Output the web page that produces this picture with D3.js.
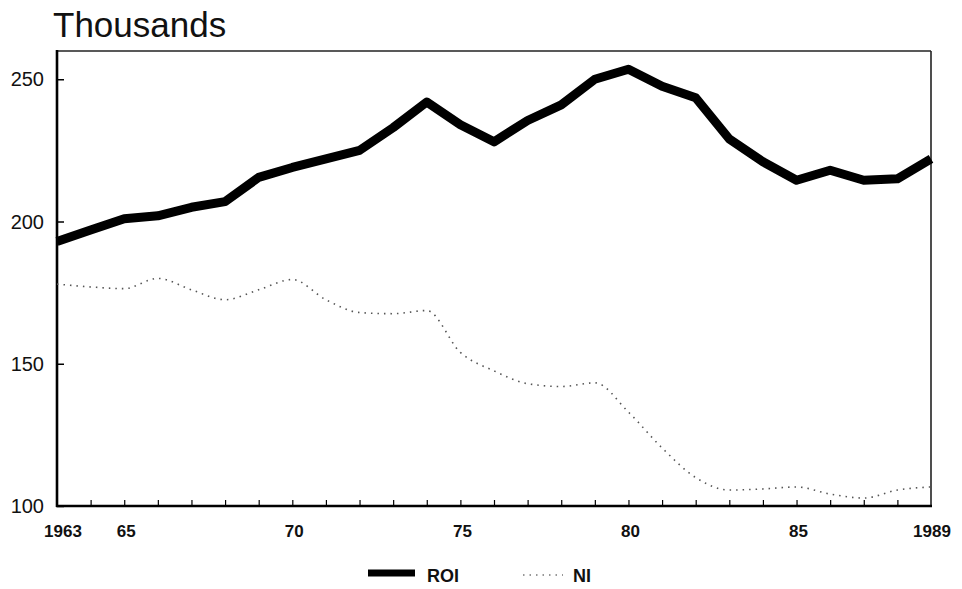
<!DOCTYPE html>
<html><head><meta charset="utf-8">
<script src="https://cdn.jsdelivr.net/npm/d3@7"></script>
<style>body{margin:0;background:#fff}svg{display:block}</style>
</head><body>
<svg id="c" width="962" height="589"></svg>
<script>
const years = d3.range(1963, 1990);
const roi = [193,197,201,202,205,207,215.5,219,222,225,233,242,234,228,235.5,241,250,253.5,247.5,243.5,229,221,214.5,218,214.5,215,222];
const ni  = [178,177,176.4,180,176,172.5,176,179.6,172.5,168,167.6,168.7,154,147.5,143,142,143.3,133,120.4,110,105.6,106,106.7,104.2,102.8,105.6,106.7];
const yTicks = [100,150,200,250];
const xTickLabels = [[1963,"1963"],[1965,"65"],[1970,"70"],[1975,"75"],[1980,"80"],[1985,"85"],[1989,"1989"]];
const seriesNames = ["ROI","NI"];

const svg = d3.select("#c");
const L=57,R=931,T=51,B=506;
const x = d3.scaleLinear().domain([1963,1989]).range([L,R]);
const y = d3.scaleLinear().domain([100,260]).range([B,B-(160)*2.845]);
const sans = "Liberation Sans, Arial, Helvetica, sans-serif";

svg.append("text").attr("x",53).attr("y",37).attr("font-family",sans)
  .attr("font-size",35).attr("fill","#111").text("Thousands");

// box
svg.append("line").attr("x1",L).attr("x2",R).attr("y1",T).attr("y2",T).attr("stroke","#222").attr("stroke-width",1.3);
svg.append("line").attr("x1",R).attr("x2",R).attr("y1",T).attr("y2",B).attr("stroke","#222").attr("stroke-width",1.6);
svg.append("line").attr("x1",L).attr("x2",L).attr("y1",T-1).attr("y2",B+1).attr("stroke","#000").attr("stroke-width",2.6);
svg.append("line").attr("x1",L-1).attr("x2",R+1).attr("y1",B).attr("y2",B).attr("stroke","#000").attr("stroke-width",2.4);

// y axis
const ya = svg.append("g").attr("transform",`translate(${L},0)`)
  .call(d3.axisRight(y).tickValues(yTicks).tickSize(7).tickFormat(""));
ya.select(".domain").remove();
ya.selectAll("line").attr("stroke","#000").attr("stroke-width",1.5);
svg.selectAll(".ylab").data(yTicks).join("text").attr("class","ylab")
  .attr("x",44).attr("y",d=>y(d)+7).attr("text-anchor","end")
  .attr("font-family",sans).attr("font-size",20).attr("fill","#111").text(d=>d);

// x axis ticks (inward)
const xa = svg.append("g").attr("transform",`translate(0,${B})`)
  .call(d3.axisTop(x).tickValues(years.slice(1,-1)).tickSize(6).tickFormat(""));
xa.select(".domain").remove();
xa.selectAll("line").attr("stroke","#000").attr("stroke-width",1.2);
svg.selectAll(".xlab").data(xTickLabels).join("text").attr("class","xlab")
  .attr("x",d=>x(d[0])+(d[0]===1963?6:(d[0]===1989?1:2))).attr("y",537).attr("text-anchor","middle")
  .attr("font-family",sans).attr("font-weight","bold")
  .attr("font-size",17).attr("fill","#111").text(d=>d[1]);

// lines
const line = d3.line().x((d,i)=>x(years[i])).y(d=>y(d));
svg.append("path").datum(ni).attr("d",line.curve(d3.curveMonotoneX)).attr("fill","none")
  .attr("stroke","#555").attr("stroke-width",1.6).attr("stroke-dasharray","1.5,5");
svg.append("path").datum(roi).attr("d",d3.line().x((d,i)=>x(years[i])).y(d=>y(d))).attr("fill","none")
  .attr("stroke","#000").attr("stroke-width",9).attr("stroke-linejoin","round");

// legend
const lg = svg.append("g");
lg.append("line").attr("x1",368).attr("x2",415).attr("y1",573).attr("y2",573).attr("stroke","#000").attr("stroke-width",7);
lg.append("text").attr("x",427).attr("y",582).attr("font-family",sans).attr("font-weight","bold")
  .attr("font-size",18).attr("fill","#111").text(seriesNames[0]);
lg.append("line").attr("x1",523).attr("x2",563).attr("y1",575).attr("y2",575).attr("stroke","#777").attr("stroke-width",1.4).attr("stroke-dasharray","1.5,5");
lg.append("text").attr("x",573).attr("y",582).attr("font-family",sans).attr("font-weight","bold")
  .attr("font-size",18).attr("fill","#111").text(seriesNames[1]);
</script>
</body></html>
